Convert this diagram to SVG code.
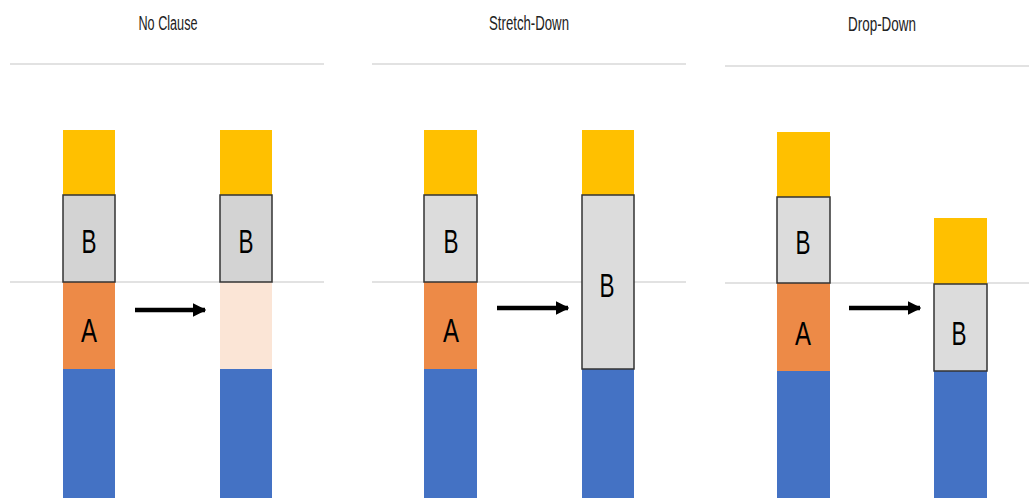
<svg xmlns="http://www.w3.org/2000/svg" width="1029" height="498" viewBox="0 0 1029 498">
<style>
.title{font-family:"Liberation Sans",Arial,sans-serif;font-size:20px;fill:#222;text-anchor:middle}
.lbl{font-family:"Liberation Sans",Arial,sans-serif;font-size:34px;fill:#000;text-anchor:middle}
.grid{stroke:#D9D9D9;stroke-width:1.5}
.y{fill:#FFC000}
.o{fill:#ED8A47}
.p{fill:#FBE5D6}
.bl{fill:#4472C4}
.b{fill:#DCDCDC;stroke:#333;stroke-width:1.5}
.arrow{stroke:#000;stroke-width:4.5;fill:none}
</style>
<defs>
<marker id="ah" viewBox="0 0 10 10" refX="9" refY="5" markerWidth="3" markerHeight="3.2" orient="auto" markerUnits="strokeWidth">
<path d="M0,0 L10,5 L0,10 Z" fill="#000"/>
</marker>
</defs>
<rect width="1029" height="498" fill="#fff"/>
<g id="gridlines">
<line class="grid" x1="10" y1="64" x2="324" y2="64"/>
<line class="grid" x1="372" y1="64" x2="686" y2="64"/>
<line class="grid" x1="725" y1="66" x2="1029" y2="66"/>
<line class="grid" x1="10" y1="282" x2="324" y2="282"/>
<line class="grid" x1="372" y1="282" x2="686" y2="282"/>
<line class="grid" x1="725" y1="283" x2="1029" y2="283"/>
</g>
<g id="titles">
<text class="title" x="168" y="30" textLength="59" lengthAdjust="spacingAndGlyphs">No Clause</text>
<text class="title" x="529" y="30" textLength="80" lengthAdjust="spacingAndGlyphs">Stretch-Down</text>
<text class="title" x="882" y="31" textLength="68" lengthAdjust="spacingAndGlyphs">Drop-Down</text>
</g>
<g id="p1-left">
<rect class="y" x="63" y="130" width="52" height="65"/>
<rect class="o" x="63" y="282" width="52" height="87"/>
<rect class="bl" x="63" y="369" width="52" height="129"/>
<rect class="b" x="63" y="195" width="52" height="87" style="fill:#D3D3D3"/>
<text class="lbl" x="89" y="253" textLength="15" lengthAdjust="spacingAndGlyphs">B</text>
<text class="lbl" x="89" y="342" textLength="16" lengthAdjust="spacingAndGlyphs">A</text>
</g>
<g id="p1-right">
<rect class="y" x="220" y="130" width="52" height="65"/>
<rect class="p" x="220" y="282" width="52" height="87"/>
<rect class="bl" x="220" y="369" width="52" height="129"/>
<rect class="b" x="220" y="195" width="52" height="87" style="fill:#D3D3D3"/>
<text class="lbl" x="246" y="253" textLength="15" lengthAdjust="spacingAndGlyphs">B</text>
</g>
<g id="p2-left">
<rect class="y" x="424" y="130" width="53" height="65"/>
<rect class="o" x="424" y="282" width="53" height="87"/>
<rect class="bl" x="424" y="369" width="53" height="129"/>
<rect class="b" x="424" y="195" width="53" height="87"/>
<text class="lbl" x="451" y="253" textLength="15" lengthAdjust="spacingAndGlyphs">B</text>
<text class="lbl" x="451" y="342" textLength="16" lengthAdjust="spacingAndGlyphs">A</text>
</g>
<g id="p2-right">
<rect class="y" x="582" y="130" width="52" height="65"/>
<rect class="bl" x="582" y="369" width="52" height="129"/>
<rect class="b" x="582" y="195" width="52" height="174"/>
<text class="lbl" x="607" y="297" textLength="15" lengthAdjust="spacingAndGlyphs">B</text>
</g>
<g id="p3-left">
<rect class="y" x="777" y="132" width="53" height="65"/>
<rect class="o" x="777" y="283" width="53" height="88"/>
<rect class="bl" x="777" y="371" width="53" height="127"/>
<rect class="b" x="777" y="197" width="53" height="86"/>
<text class="lbl" x="803" y="254" textLength="15" lengthAdjust="spacingAndGlyphs">B</text>
<text class="lbl" x="803" y="345" textLength="16" lengthAdjust="spacingAndGlyphs">A</text>
</g>
<g id="p3-right">
<rect class="y" x="934" y="218" width="53" height="66"/>
<rect class="bl" x="934" y="371" width="53" height="127"/>
<rect class="b" x="934" y="284" width="53" height="87"/>
<text class="lbl" x="959" y="345" textLength="15" lengthAdjust="spacingAndGlyphs">B</text>
</g>
<g id="connectors">
<line class="arrow" x1="135" y1="310" x2="205" y2="310" marker-end="url(#ah)"/>
<line class="arrow" x1="497" y1="308" x2="568" y2="308" marker-end="url(#ah)"/>
<line class="arrow" x1="849" y1="308" x2="920" y2="308" marker-end="url(#ah)"/>
</g>
</svg>
